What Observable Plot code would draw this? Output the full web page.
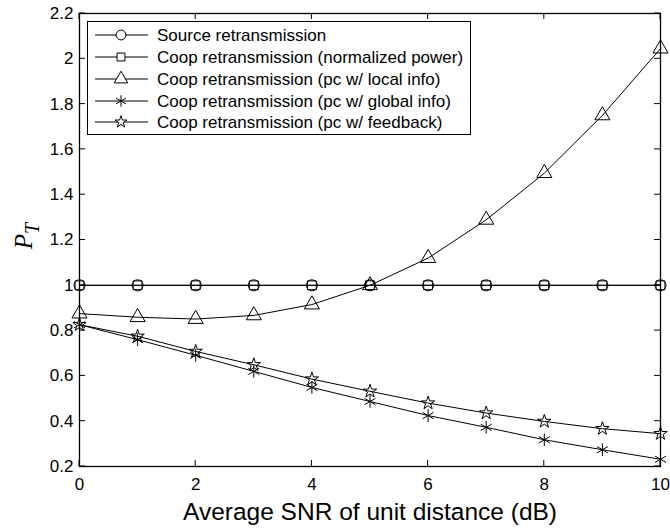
<!DOCTYPE html>
<html><head><meta charset="utf-8">
<script src="https://cdn.jsdelivr.net/npm/d3@7"></script>
<script src="https://cdn.jsdelivr.net/npm/@observablehq/plot@0.6"></script>
<style>body{margin:0;background:#fff} svg{display:block}</style>
</head><body><div id="chart"></div>
<script>
const snr = [0, 1, 2, 3, 4, 5, 6, 7, 8, 9, 10];
const sourceRetx = [1, 1, 1, 1, 1, 1, 1, 1, 1, 1, 1];
const coopNormalized = [1, 1, 1, 1, 1, 1, 1, 1, 1, 1, 1];
const coopLocal = [0.875, 0.859, 0.851, 0.867, 0.915, 1.0, 1.12, 1.289, 1.495, 1.75, 2.045];
const coopGlobal = [0.826, 0.76, 0.691, 0.62, 0.549, 0.487, 0.425, 0.373, 0.318, 0.274, 0.232];
const coopFeedback = [0.826, 0.775, 0.708, 0.649, 0.586, 0.532, 0.48, 0.436, 0.399, 0.367, 0.345];
const seriesNames = [
  "Source retransmission",
  "Coop retransmission (normalized power)",
  "Coop retransmission (pc w/ local info)",
  "Coop retransmission (pc w/ global info)",
  "Coop retransmission (pc w/ feedback)"
];
const seriesSymbols = ["circle", "square", "triangle", "asterisk", "star"];
const seriesR = [5.5, 5, 5.6, 6, 4.2];
const xTicks = [0, 2, 4, 6, 8, 10];
const yTicks = [0.2, 0.4, 0.6, 0.8, 1, 1.2, 1.4, 1.6, 1.8, 2, 2.2];
const xLabel = "Average SNR of unit distance (dB)";

const allValues = [sourceRetx, coopNormalized, coopLocal, coopGlobal, coopFeedback];
const series = allValues.map((vals, i) => snr.map((x, j) => ({x, y: vals[j], s: seriesNames[i]})));

const font = "'Liberation Sans', Arial, Helvetica, sans-serif";
const marks = [];
series.forEach((data, i) => {
  marks.push(Plot.line(data, {x: "x", y: "y", stroke: "black", strokeWidth: 1}));
});
series.forEach((data, i) => {
  marks.push(Plot.dot(data, {x: "x", y: "y", symbol: () => seriesSymbols[i], r: seriesR[i], stroke: "black", strokeWidth: 1, fill: "none"}));
});
marks.push(
  Plot.axisX({anchor: "bottom", ticks: xTicks, tickSize: 0, tickPadding: 11, fontSize: 17, tickFormat: d => String(d), label: null}),
  Plot.axisY({anchor: "left", ticks: yTicks, tickSize: 0, tickPadding: 6, fontSize: 17, tickFormat: d => String(d), label: null}),
  Plot.frame({stroke: "black", strokeWidth: 1.3}),
  Plot.text([xLabel], {text: d => d, frameAnchor: "bottom", dy: 46, fontSize: 24.5, lineAnchor: "middle"})
);

const chart = Plot.plot({
  width: 670, height: 530,
  marginLeft: 79, marginRight: 10, marginTop: 13, marginBottom: 64,
  x: {domain: [0, 10]},
  y: {domain: [0.2, 2.2]},
  style: {fontSize: "17px", fontFamily: font, color: "black", background: "white"},
  marks
});
document.getElementById("chart").appendChild(chart);

const svg = d3.select(chart);
const xs = chart.scale("x"), ys = chart.scale("y");
const [x0, x1] = xs.range, [y0, y1] = ys.range;
const tk = svg.append("g").attr("stroke", "black").attr("stroke-width", 1);
const TL = 6;
xTicks.forEach(t => {
  const px = xs.apply(t);
  tk.append("line").attr("x1", px).attr("x2", px).attr("y1", y0).attr("y2", y0 - TL);
  tk.append("line").attr("x1", px).attr("x2", px).attr("y1", y1).attr("y2", y1 + TL);
});
yTicks.forEach(t => {
  const py = ys.apply(t);
  tk.append("line").attr("x1", x0).attr("x2", x0 + TL).attr("y1", py).attr("y2", py);
  tk.append("line").attr("x1", x1).attr("x2", x1 - TL).attr("y1", py).attr("y2", py);
});

// legend
const lg = svg.append("g");
lg.append("rect").attr("x", 87.5).attr("y", 21.5).attr("width", 383).attr("height", 113)
  .attr("fill", "white").attr("stroke", "black").attr("stroke-width", 1);
const rowY = [35, 57, 79, 101, 122];
const symMap = {circle: d3.symbolCircle, square: d3.symbolSquare, triangle: d3.symbolTriangle, asterisk: d3.symbolAsterisk, star: d3.symbolStar};
seriesNames.forEach((name, i) => {
  const y = rowY[i];
  lg.append("line").attr("x1", 95).attr("x2", 148).attr("y1", y).attr("y2", y).attr("stroke", "black");
  lg.append("path").attr("transform", `translate(121,${y})`)
    .attr("d", d3.symbol(symMap[seriesSymbols[i]], Math.PI * seriesR[i] * seriesR[i] * 0.8)())
    .attr("fill", "white").attr("stroke", "black");
  lg.append("text").attr("x", 157).attr("y", y).attr("dy", "0.35em").attr("text-anchor", "start")
    .attr("font-family", font).attr("font-size", 17).attr("fill", "black").text(name);
});
// y label
const yl = svg.append("text").attr("transform", "translate(32,236) rotate(-90)")
  .attr("text-anchor", "middle").attr("font-family", "'Liberation Serif', 'Times New Roman', serif")
  .attr("font-style", "italic").attr("fill", "black");
yl.append("tspan").attr("font-size", 25).text("P");
yl.append("tspan").attr("font-size", 20).attr("dy", 7).text("T");
</script>
</body></html>
